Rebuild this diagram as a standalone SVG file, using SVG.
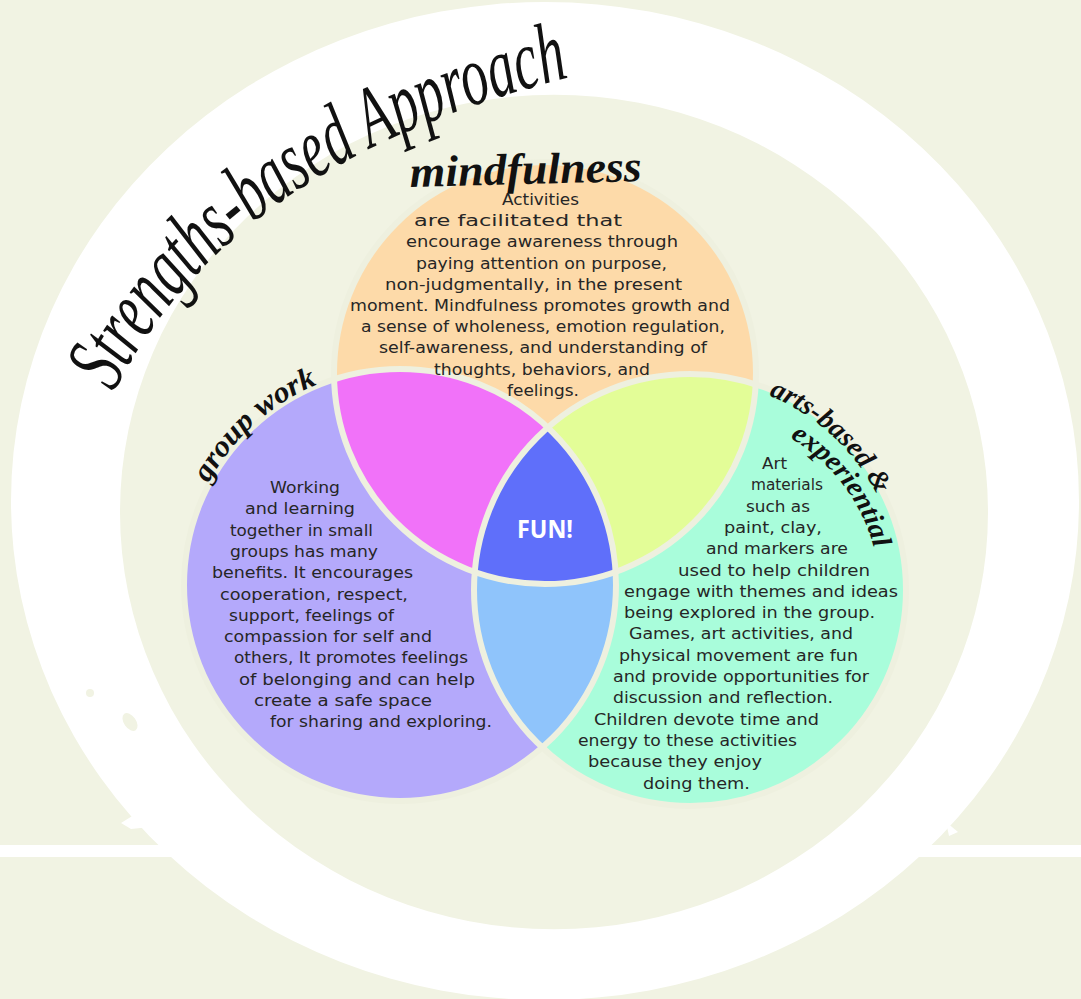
<svg xmlns="http://www.w3.org/2000/svg" width="1081" height="999" viewBox="0 0 1081 999">
  <defs>
    <style>
      .bg { fill: #f1f3e3; }
      .ring { fill: #ffffff; fill-rule: evenodd; }
      .hole { fill: #f1f3e3; }
      .edge { fill: none; stroke: #eef0df; stroke-width: 6; }
      .body { font-family: "DejaVu Sans", "Liberation Sans", sans-serif; font-size: 16.5px; fill: #262626; }
      .hand { font-family: "Liberation Serif", serif; font-style: italic; font-weight: bold; fill: #111111; }
      .title { font-family: "Liberation Serif", serif; font-style: italic; fill: #111111; }
      .fun { font-family: "Open Sans", "DejaVu Sans", sans-serif; font-weight: bold; font-size: 25px; fill: #ffffff; }
    </style>
    <clipPath id="clipO"><circle cx="545" cy="373" r="211"/></clipPath>
    <clipPath id="clipP"><circle cx="400" cy="585" r="216"/></clipPath>
    <path id="titlePath" d="M 114,392 Q 234,154 592,72"/>
    <path id="groupPath" d="M 208.4,483.2 A 217,217 0 0,1 333,378.6"/>
    <path id="artsPath" d="M 768.7,395.3 A 210,210 0 0,1 887,518"/>
    <path id="expPath" d="M 790,438 A 183,183 0 0,1 876,556"/>
  </defs>

  <!-- backdrop -->
  <rect class="bg" x="0" y="0" width="1081" height="999"/>

  <!-- table line and brush ring -->
  <g id="frame">
    <rect x="0" y="845" width="200" height="12" fill="#ffffff"/>
    <rect x="890" y="845" width="191" height="12" fill="#ffffff"/>
    <path class="ring" d="M 11,501 a 534,499 0 1,0 1068,0 a 534,499 0 1,0 -1068,0 Z M 120,512 a 434,417 0 1,0 868,0 a 434,417 0 1,0 -868,0 Z"/>
    <polygon points="142,810 121,823 131,829 150,827" fill="#ffffff"/>
    <polygon points="946,822 958,832 949,836" fill="#ffffff"/>
    <circle class="hole" cx="90" cy="693" r="4"/>
    <ellipse class="hole" cx="130" cy="722" rx="6" ry="10" transform="rotate(-35 130 722)"/>
  </g>

  <!-- title around the ring -->
  <g id="title">
    <text class="title" font-size="86" textLength="572" lengthAdjust="spacingAndGlyphs"><textPath href="#titlePath">Strengths-based Approach</textPath></text>
  </g>

  <!-- three overlapping circles -->
  <g id="venn">
    <circle cx="400" cy="585" r="216" fill="#b4a9fb"/>
    <circle cx="690" cy="590" r="216" fill="#a9fddb"/>
    <circle cx="545" cy="373" r="211" fill="#fddaa9"/>
    <circle cx="400" cy="585" r="216" fill="#f172f9" clip-path="url(#clipO)"/>
    <circle cx="690" cy="590" r="216" fill="#e3fd97" clip-path="url(#clipO)"/>
    <circle cx="690" cy="590" r="216" fill="#8fc4fb" clip-path="url(#clipP)"/>
    <g clip-path="url(#clipP)">
      <circle cx="690" cy="590" r="216" fill="#5f6ffa" clip-path="url(#clipO)"/>
    </g>
    <circle class="edge" cx="400" cy="585" r="216"/>
    <circle class="edge" cx="690" cy="590" r="216"/>
    <circle class="edge" cx="545" cy="373" r="211"/>
  </g>

  <g id="node-mindfulness">
    <text class="hand" x="410" y="184" font-size="44" textLength="232" lengthAdjust="spacingAndGlyphs" transform="rotate(-1.5 526 184)">mindfulness</text>
    <text class="body" x="502" y="205" textLength="77" lengthAdjust="spacingAndGlyphs">Activities</text>
    <text class="body" x="414" y="226" textLength="208" lengthAdjust="spacingAndGlyphs">are facilitated that</text>
    <text class="body" x="406" y="247" textLength="272" lengthAdjust="spacingAndGlyphs">encourage awareness through</text>
    <text class="body" x="416" y="268.5" textLength="251" lengthAdjust="spacingAndGlyphs">paying attention on purpose,</text>
    <text class="body" x="385" y="289.5" textLength="297" lengthAdjust="spacingAndGlyphs">non-judgmentally, in the present</text>
    <text class="body" x="350" y="311" textLength="380" lengthAdjust="spacingAndGlyphs">moment. Mindfulness promotes growth and</text>
    <text class="body" x="361" y="332" textLength="364" lengthAdjust="spacingAndGlyphs">a sense of wholeness, emotion regulation,</text>
    <text class="body" x="379" y="353" textLength="328" lengthAdjust="spacingAndGlyphs">self-awareness, and understanding of</text>
    <text class="body" x="434" y="374.5" textLength="216" lengthAdjust="spacingAndGlyphs">thoughts, behaviors, and</text>
    <text class="body" x="507" y="395.5" textLength="72" lengthAdjust="spacingAndGlyphs">feelings.</text>
  </g>

  <g id="node-group-work">
    <text class="hand" font-size="30" textLength="150" lengthAdjust="spacingAndGlyphs"><textPath href="#groupPath">group work</textPath></text>
    <text class="body" x="270" y="493" textLength="70" lengthAdjust="spacingAndGlyphs">Working</text>
    <text class="body" x="245" y="514.3" textLength="110" lengthAdjust="spacingAndGlyphs">and learning</text>
    <text class="body" x="230" y="535.6" textLength="143" lengthAdjust="spacingAndGlyphs">together in small</text>
    <text class="body" x="230" y="556.9" textLength="148" lengthAdjust="spacingAndGlyphs">groups has many</text>
    <text class="body" x="212" y="578.2" textLength="201" lengthAdjust="spacingAndGlyphs">benefits. It encourages</text>
    <text class="body" x="220" y="599.5" textLength="188" lengthAdjust="spacingAndGlyphs">cooperation, respect,</text>
    <text class="body" x="229" y="620.8" textLength="165" lengthAdjust="spacingAndGlyphs">support, feelings of</text>
    <text class="body" x="224" y="642.1" textLength="208" lengthAdjust="spacingAndGlyphs">compassion for self and</text>
    <text class="body" x="234" y="663.4" textLength="234" lengthAdjust="spacingAndGlyphs">others, It promotes feelings</text>
    <text class="body" x="239" y="684.7" textLength="236" lengthAdjust="spacingAndGlyphs">of belonging and can help</text>
    <text class="body" x="254" y="706" textLength="178" lengthAdjust="spacingAndGlyphs">create a safe space</text>
    <text class="body" x="270" y="727.3" textLength="222" lengthAdjust="spacingAndGlyphs">for sharing and exploring.</text>
  </g>

  <g id="node-arts-based">
    <text class="hand" font-size="28" textLength="150" lengthAdjust="spacingAndGlyphs"><textPath href="#artsPath">arts-based &amp;</textPath></text>
    <text class="hand" font-size="28" textLength="142" lengthAdjust="spacingAndGlyphs"><textPath href="#expPath">experiential</textPath></text>
    <text class="body" x="762" y="469" textLength="25" lengthAdjust="spacingAndGlyphs">Art</text>
    <text class="body" x="751" y="490.3" textLength="72" lengthAdjust="spacingAndGlyphs">materials</text>
    <text class="body" x="746" y="511.6" textLength="64" lengthAdjust="spacingAndGlyphs">such as</text>
    <text class="body" x="724" y="532.9" textLength="98" lengthAdjust="spacingAndGlyphs">paint, clay,</text>
    <text class="body" x="706" y="554.2" textLength="142" lengthAdjust="spacingAndGlyphs">and markers are</text>
    <text class="body" x="678" y="575.5" textLength="192" lengthAdjust="spacingAndGlyphs">used to help children</text>
    <text class="body" x="624" y="596.8" textLength="274" lengthAdjust="spacingAndGlyphs">engage with themes and ideas</text>
    <text class="body" x="624" y="618.1" textLength="251" lengthAdjust="spacingAndGlyphs">being explored in the group.</text>
    <text class="body" x="629" y="639.4" textLength="224" lengthAdjust="spacingAndGlyphs">Games, art activities, and</text>
    <text class="body" x="619" y="660.7" textLength="239" lengthAdjust="spacingAndGlyphs">physical movement are fun</text>
    <text class="body" x="613" y="682" textLength="256" lengthAdjust="spacingAndGlyphs">and provide opportunities for</text>
    <text class="body" x="613" y="703.3" textLength="220" lengthAdjust="spacingAndGlyphs">discussion and reflection.</text>
    <text class="body" x="594" y="724.6" textLength="225" lengthAdjust="spacingAndGlyphs">Children devote time and</text>
    <text class="body" x="578" y="745.9" textLength="219" lengthAdjust="spacingAndGlyphs">energy to these activities</text>
    <text class="body" x="588" y="767.2" textLength="174" lengthAdjust="spacingAndGlyphs">because they enjoy</text>
    <text class="body" x="643" y="788.5" textLength="107" lengthAdjust="spacingAndGlyphs">doing them.</text>
  </g>

  <g id="node-fun">
    <text class="fun" x="545" y="538" text-anchor="middle" textLength="56" lengthAdjust="spacingAndGlyphs">FUN!</text>
  </g>
</svg>
